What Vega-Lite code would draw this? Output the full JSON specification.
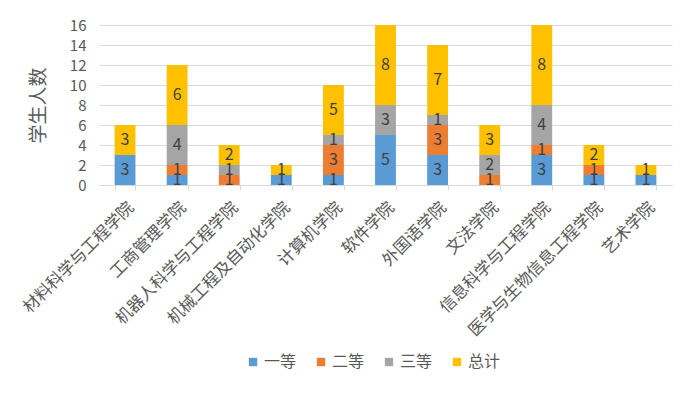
{
  "$schema": "https://vega.github.io/schema/vega-lite/v6.json",
  "width": 573,
  "height": 160,
  "autosize": "none",
  "padding": {"left": 99, "top": 25, "right": 27, "bottom": 208},
  "background": "white",
  "config": {
    "font": "Noto Sans CJK SC",
    "view": {"stroke": null},
    "axis": {"labelColor": "#595959", "titleColor": "#595959", "labelFont": "Noto Sans CJK SC", "titleFont": "Noto Sans CJK SC"},
    "axisY": {
      "titleFontSize": 19,
      "titleFontWeight": "normal",
      "titlePadding": 21,
      "labelFontSize": 15,
      "labelPadding": 13,
      "labelOverlap": false,
      "domain": false,
      "ticks": false,
      "gridColor": "#D9D9D9"
    },
    "legend": {"labelColor": "#595959", "labelFont": "Noto Sans CJK SC"}
  },
  "data": {
    "values": [
      {"college": "材料科学与工程学院", "level": "一等", "ord": 1, "value": 3},
      {"college": "材料科学与工程学院", "level": "总计", "ord": 4, "value": 3},
      {"college": "工商管理学院", "level": "一等", "ord": 1, "value": 1},
      {"college": "工商管理学院", "level": "二等", "ord": 2, "value": 1},
      {"college": "工商管理学院", "level": "三等", "ord": 3, "value": 4},
      {"college": "工商管理学院", "level": "总计", "ord": 4, "value": 6},
      {"college": "机器人科学与工程学院", "level": "二等", "ord": 2, "value": 1},
      {"college": "机器人科学与工程学院", "level": "三等", "ord": 3, "value": 1},
      {"college": "机器人科学与工程学院", "level": "总计", "ord": 4, "value": 2},
      {"college": "机械工程及自动化学院", "level": "一等", "ord": 1, "value": 1},
      {"college": "机械工程及自动化学院", "level": "总计", "ord": 4, "value": 1},
      {"college": "计算机学院", "level": "一等", "ord": 1, "value": 1},
      {"college": "计算机学院", "level": "二等", "ord": 2, "value": 3},
      {"college": "计算机学院", "level": "三等", "ord": 3, "value": 1},
      {"college": "计算机学院", "level": "总计", "ord": 4, "value": 5},
      {"college": "软件学院", "level": "一等", "ord": 1, "value": 5},
      {"college": "软件学院", "level": "三等", "ord": 3, "value": 3},
      {"college": "软件学院", "level": "总计", "ord": 4, "value": 8},
      {"college": "外国语学院", "level": "一等", "ord": 1, "value": 3},
      {"college": "外国语学院", "level": "二等", "ord": 2, "value": 3},
      {"college": "外国语学院", "level": "三等", "ord": 3, "value": 1},
      {"college": "外国语学院", "level": "总计", "ord": 4, "value": 7},
      {"college": "文法学院", "level": "二等", "ord": 2, "value": 1},
      {"college": "文法学院", "level": "三等", "ord": 3, "value": 2},
      {"college": "文法学院", "level": "总计", "ord": 4, "value": 3},
      {"college": "信息科学与工程学院", "level": "一等", "ord": 1, "value": 3},
      {"college": "信息科学与工程学院", "level": "二等", "ord": 2, "value": 1},
      {"college": "信息科学与工程学院", "level": "三等", "ord": 3, "value": 4},
      {"college": "信息科学与工程学院", "level": "总计", "ord": 4, "value": 8},
      {"college": "医学与生物信息工程学院", "level": "一等", "ord": 1, "value": 1},
      {"college": "医学与生物信息工程学院", "level": "二等", "ord": 2, "value": 1},
      {"college": "医学与生物信息工程学院", "level": "总计", "ord": 4, "value": 2},
      {"college": "艺术学院", "level": "一等", "ord": 1, "value": 1},
      {"college": "艺术学院", "level": "总计", "ord": 4, "value": 1}
    ]
  },
  "transform": [
    {"stack": "value", "groupby": ["college"], "sort": [{"field": "ord", "order": "ascending"}], "as": ["v0", "v1"]},
    {"calculate": "(datum.v0 + datum.v1) / 2", "as": "mid"}
  ],
  "encoding": {
    "x": {
      "field": "college",
      "type": "nominal",
      "sort": ["材料科学与工程学院", "工商管理学院", "机器人科学与工程学院", "机械工程及自动化学院", "计算机学院", "软件学院", "外国语学院", "文法学院", "信息科学与工程学院", "医学与生物信息工程学院", "艺术学院"],
      "scale": {"paddingInner": 0.6, "paddingOuter": 0.3},
      "axis": {
        "title": null,
        "labelAngle": -45,
        "labelFontSize": 16.5,
        "labelPadding": 9,
        "labelLimit": 400,
        "domainColor": "#D9D9D9",
        "tickColor": "#D9D9D9",
        "tickBand": "extent",
        "tickSize": 5
      }
    }
  },
  "layer": [
    {
      "mark": {"type": "bar"},
      "encoding": {
        "y": {
          "field": "v0",
          "type": "quantitative",
          "scale": {"domain": [0, 16]},
          "axis": {"title": "学生人数", "values": [0, 2, 4, 6, 8, 10, 12, 14, 16]}
        },
        "y2": {"field": "v1"},
        "color": {
          "field": "level",
          "type": "nominal",
          "scale": {"domain": ["一等", "二等", "三等", "总计"], "range": ["#5B9BD5", "#ED7D31", "#A5A5A5", "#FFC000"]},
          "legend": {
            "title": null,
            "orient": "none",
            "legendX": 146,
            "legendY": 329,
            "direction": "horizontal",
            "symbolType": "square",
            "symbolSize": 70,
            "symbolStrokeWidth": 0,
            "labelFontSize": 16,
            "labelOffset": 3,
            "columnPadding": 16
          }
        }
      }
    },
    {
      "mark": {"type": "text", "fontSize": 16, "color": "#404040", "baseline": "middle"},
      "encoding": {
        "y": {
          "field": "mid",
          "type": "quantitative",
          "axis": {"title": "学生人数", "values": [0, 2, 4, 6, 8, 10, 12, 14, 16]}
        },
        "text": {"field": "value", "type": "quantitative"}
      }
    }
  ]
}
